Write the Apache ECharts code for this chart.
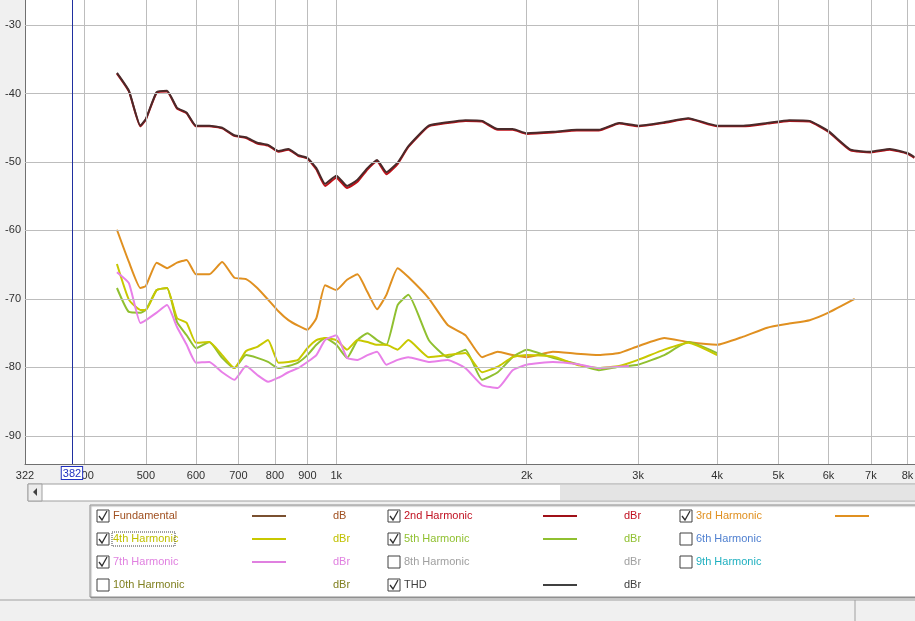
<!DOCTYPE html>
<html><head><meta charset="utf-8">
<script src="https://cdn.jsdelivr.net/npm/echarts@6/dist/echarts.min.js"></script>
<style>html,body{margin:0;padding:0;background:#f0f0f0}#c{width:915px;height:621px}</style>
</head><body><div id="c"></div>
<script>
const freqs = [450,470,490,500,520,540,560,580,600,630,660,690,720,750,780,810,840,870,900,930,960,1000,1040,1080,1120,1160,1200,1250,1300,1400,1500,1600,1700,1800,1900,2000,2200,2400,2600,2800,3000,3300,3600,4000,4400,4800,5200,5600,6000,6500,7000,7500,8000,8200];
const thd = [-37.0,-39.6,-44.7,-43.7,-39.8,-39.6,-42.1,-42.8,-44.7,-44.7,-45.0,-46.1,-46.4,-47.2,-47.5,-48.4,-48.1,-49.0,-49.4,-50.9,-53.2,-52.0,-53.5,-52.6,-50.9,-49.7,-51.5,-50.1,-47.7,-44.7,-44.2,-43.9,-44.0,-45.2,-45.2,-45.8,-45.6,-45.3,-45.3,-44.3,-44.7,-44.2,-43.6,-44.7,-44.7,-44.3,-43.9,-44.0,-45.5,-48.2,-48.5,-48.1,-48.7,-49.3];
const h2 = [-37.1,-39.7,-44.8,-43.8,-39.9,-39.7,-42.2,-42.9,-44.8,-44.8,-45.1,-46.2,-46.5,-47.3,-47.6,-48.5,-48.2,-49.1,-49.5,-51.1,-53.5,-52.3,-53.8,-52.9,-51.1,-49.9,-51.8,-50.3,-47.8,-44.8,-44.3,-44.0,-44.1,-45.3,-45.3,-45.9,-45.7,-45.4,-45.4,-44.4,-44.8,-44.3,-43.7,-44.8,-44.8,-44.4,-44.0,-44.1,-45.6,-48.3,-48.6,-48.2,-48.8,-49.4];
const h3Freqs = [450,470,490,500,520,540,560,580,600,630,660,690,720,750,780,810,840,870,900,930,960,1000,1040,1080,1120,1160,1200,1250,1300,1400,1500,1600,1700,1800,1900,2000,2200,2400,2600,2800,3000,3300,3600,4000,4400,4800,5200,5600,6000,6600];
const h3 = [-59.9,-64.6,-68.4,-68.1,-64.7,-65.5,-64.7,-64.3,-66.4,-66.4,-64.6,-66.9,-67.1,-68.4,-70.1,-71.8,-73.1,-73.9,-74.5,-72.8,-68.0,-68.7,-67.2,-66.4,-69.0,-71.5,-69.4,-65.5,-66.8,-69.9,-73.8,-75.3,-78.5,-77.7,-78.2,-78.5,-77.7,-78.0,-78.2,-77.9,-76.9,-75.7,-76.3,-76.7,-75.5,-74.2,-73.6,-73.1,-72.0,-70.0];
const lowFreqs = [450,470,490,500,520,540,560,580,600,630,660,690,720,750,780,810,840,870,900,930,960,1000,1040,1080,1120,1160,1200,1250,1300,1400,1500,1600,1700,1800,1900,2000,2200,2400,2600,2800,3000,3300,3600,4000];
const h4 = [-64.9,-70.1,-71.6,-71.6,-68.7,-68.4,-72.8,-73.5,-76.4,-76.3,-78.2,-80.1,-77.6,-77.0,-76.0,-79.3,-79.2,-78.9,-77.2,-76.0,-75.7,-76.0,-77.4,-76.0,-76.3,-76.7,-76.7,-77.4,-76.0,-78.5,-78.2,-77.9,-80.7,-79.9,-78.5,-78.2,-78.4,-79.6,-80.1,-79.8,-78.9,-77.4,-76.4,-78.2];
const h5 = [-68.4,-71.9,-72.0,-71.6,-68.7,-68.4,-73.4,-75.3,-77.2,-76.3,-78.6,-80.1,-78.2,-78.6,-79.2,-80.1,-79.8,-79.3,-78.2,-76.7,-75.7,-76.7,-78.6,-76.0,-75.0,-76.0,-76.7,-70.9,-69.4,-76.0,-78.5,-77.4,-81.8,-80.7,-78.5,-77.4,-78.6,-79.5,-80.4,-79.9,-79.6,-78.2,-76.3,-77.9];
const h7Freqs = [450,470,490,500,520,540,560,580,600,630,660,690,720,750,780,810,840,870,900,930,960,1000,1040,1080,1120,1160,1200,1250,1300,1400,1500,1600,1700,1800,1900,2000,2200,2400,2600,2800,2900];
const h7 = [-66.1,-67.7,-73.5,-73.1,-72.0,-70.9,-74.1,-76.7,-79.3,-79.2,-80.7,-81.8,-79.8,-81.1,-82.1,-81.5,-80.7,-80.1,-79.2,-78.2,-76.0,-75.3,-78.6,-78.9,-78.2,-77.7,-79.6,-78.9,-78.5,-79.2,-78.9,-80.1,-82.6,-83.0,-80.4,-79.6,-79.2,-79.5,-80.1,-79.9,-79.8];
const xTicks = [322,400,500,600,700,800,900,1000,2000,3000,4000,5000,6000,7000,8000];
const xTickLabels = ['322','400','500','600','700','800','900','1k','2k','3k','4k','5k','6k','7k','8k'];
const yTicks = [-30,-40,-50,-60,-70,-80,-90];
const cursorFreq = 382;

const zip = (f, v) => f.map((x, i) => [x, v[i]]);
const line = (name, f, v, color, z) => ({name, type:'line', data: zip(f, v), showSymbol:false, smooth:0.15,
  lineStyle:{color, width:2}, itemStyle:{color}, z: z||2, silent:true, animation:false});

const gridLines = {name:'grid', type:'line', data:[], silent:true, animation:false, z:1,
  markLine:{symbol:'none', silent:true, animation:false,
    data:[
      ...xTicks.map((t,i)=>({xAxis:t, lineStyle:{color: i===0?'#707070':'#bdbdbd', width:1, type:'solid'},
        label:{show:true, position:'start', formatter: xTickLabels[i], color:'#303030', fontSize:11, fontFamily:'Liberation Sans', distance:6}})),
      ...yTicks.map(t=>({yAxis:t, lineStyle:{color:'#bdbdbd', width:1, type:'solid'},
        label:{show:true, position:'start', formatter: String(t), color:'#303030', fontSize:11, fontFamily:'Liberation Sans', distance:4}}))
    ]}};
const cursor = {name:'cursor', type:'line', data:[], silent:true, animation:false, z:5,
  markLine:{symbol:'none', silent:true, animation:false,
    data:[{xAxis:cursorFreq, lineStyle:{color:'#2030a0', width:1, type:'solid'},
      label:{show:true, position:'start', formatter:String(cursorFreq), color:'#2030c0', fontSize:11, fontFamily:'Liberation Sans',
        backgroundColor:'#ffffff', borderColor:'#2030c0', borderWidth:1, padding:[1,1,0,1], distance:3}}]}};

const legendItems = [
  ['Fundamental','#a05020','#7a5030','dB',true],['2nd Harmonic','#c01020','#a01018','dBr',true],['3rd Harmonic','#e09020','#e09020','dBr',true],
  ['4th Harmonic','#c0c000','#c8c800','dBr',true],['5th Harmonic','#90c030','#90c030','dBr',true],['6th Harmonic','#5080d0',null,'dBr',false],
  ['7th Harmonic','#e080e0','#e080e0','dBr',true],['8th Harmonic','#a0a0a0',null,'dBr',false],['9th Harmonic','#20b0c0',null,'dBr',false],
  ['10th Harmonic','#808020',null,'dBr',false],['THD','#404040','#404040','dBr',true]
];
const colX = [97, 388, 680];
const g = [
  {type:'rect', shape:{x:28,y:484,width:900,height:17}, style:{fill:'#ffffff', stroke:'#a0a0a0'}},
  {type:'rect', shape:{x:560,y:485,width:360,height:15}, style:{fill:'#e4e4e4'}},
  {type:'rect', shape:{x:28,y:484,width:14,height:17}, style:{fill:'#ececec', stroke:'#a0a0a0'}},
  {type:'polygon', shape:{points:[[33,492],[37,488],[37,496]]}, style:{fill:'#404040'}},
  {type:'rect', shape:{x:90,y:505,width:830,height:92}, style:{fill:'#ffffff', stroke:'#909090', lineWidth:1, shadowColor:'rgba(0,0,0,0.3)', shadowOffsetX:1, shadowOffsetY:1, shadowBlur:1}},
  {type:'line', shape:{x1:0,y1:600,x2:915,y2:600}, style:{stroke:'#a0a0a0'}},
  {type:'line', shape:{x1:855,y1:600,x2:855,y2:621}, style:{stroke:'#a0a0a0'}}
];
legendItems.forEach((it,i)=>{
  const col = i%3, row = Math.floor(i/3);
  const x = colX[col], y = 516 + row*23;
  g.push({type:'rect', shape:{x:x, y:y-6, width:12, height:12}, style:{fill:'#fff', stroke:'#404040'}});
  if (it[4]) g.push({type:'polyline', shape:{points:[[x+2,y],[x+5,y+4],[x+10,y-5]]}, style:{stroke:'#303030', lineWidth:1.3, fill:null}});
  g.push({type:'text', x:x+16, y:y, style:{text:it[0], fill:it[1], font:'11px Liberation Sans', verticalAlign:'middle'}});
  if (it[2]) g.push({type:'line', shape:{x1:x+155, y1:y, x2:x+189, y2:y}, style:{stroke:it[2], lineWidth:2}});
  g.push({type:'text', x:x+236, y:y, style:{text:it[3], fill:it[1], font:'11px Liberation Sans', verticalAlign:'middle'}});
});
g.push({type:'rect', shape:{x:112,y:532,width:63,height:14}, style:{fill:null, stroke:'#404040', lineDash:[1,1]}});

const chart = echarts.init(document.getElementById('c'));
chart.setOption({
  backgroundColor:'#f0f0f0', animation:false,
  grid:{left:25, right:0, top:0, bottom:157, show:true, backgroundColor:'#ffffff', borderWidth:0},
  xAxis:{type:'log', min:322, max:8220, axisLabel:{show:false}, axisTick:{show:false}, splitLine:{show:false}, minorSplitLine:{show:false},
    axisLine:{show:true, lineStyle:{color:'#707070'}}},
  yAxis:{type:'value', min:-94.1, max:-26.35, axisLabel:{show:false}, axisTick:{show:false}, splitLine:{show:false}, axisLine:{show:false}},
  series:[gridLines,
    line('3rd Harmonic', h3Freqs, h3, '#e09020'),
    line('5th Harmonic', lowFreqs, h5, '#90c030'),
    line('4th Harmonic', lowFreqs, h4, '#c8c800'),
    line('7th Harmonic', h7Freqs, h7, '#e880e8'),
    line('2nd Harmonic', freqs, h2, '#c01018'),
    line('THD', freqs, thd, '#4a2a2a', 3),
    cursor],
  graphic:g
});
</script></body></html>
